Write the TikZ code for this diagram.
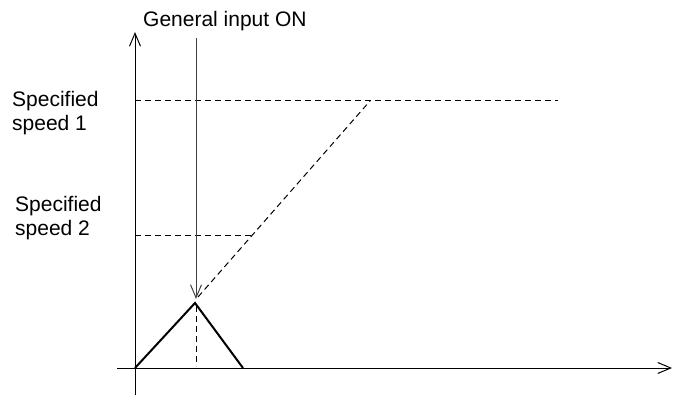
\documentclass[tikz,border=0pt]{standalone}
\usepackage{fontspec}
\setmainfont{Liberation Sans}
\usetikzlibrary{arrows.meta}
\begin{document}
\begin{tikzpicture}[x=1pt,y=-1pt,
  lbl/.style={font=\fontsize{21}{24}\selectfont, inner sep=0pt, align=left},
  axis/.style={line width=1pt, -{Straight Barb[length=13pt,width=11pt,line width=1pt]}},
  guide/.style={line width=1pt, dash pattern=on 6pt off 4pt},
  curve/.style={line width=2pt, line join=miter},
  marker/.style={line width=1pt, draw=black!75, -{Straight Barb[length=13pt,width=11pt,line width=1pt]}}]
\useasboundingbox (0,0) rectangle (673,396);
% coordinates
\coordinate (yb) at (135,395);
\coordinate (yt) at (135,32);
\coordinate (xl) at (117,368);
\coordinate (xr) at (672,368);
\coordinate (o) at (135,368);
\coordinate (pk) at (195,303);
\coordinate (re) at (243,368);
\coordinate (s1a) at (135,101);
\coordinate (s1b) at (558,101);
\coordinate (s2a) at (135,235);
\coordinate (s2b) at (252,235);
\coordinate (da) at (198,297);
\coordinate (db) at (370,101);
\coordinate (va) at (196,306);
\coordinate (vb) at (196,366);
\coordinate (ma) at (196,38);
\coordinate (mb) at (196,299);
% labels
\node[lbl, anchor=base west] (gi) at (143,27) {General input ON};
\node[lbl, anchor=north west] (sp1) at (12,91.5) {Specified\\speed 1};
\node[lbl, anchor=north west] (sp2) at (15,196.5) {Specified\\speed 2};
% axes
\draw[axis] (yb) -- (yt);
\draw[axis] (xl) -- (xr);
% guides
\draw[guide] (s1a) -- (s1b);
\draw[guide] (s2a) -- (s2b);
\draw[guide] (da) -- (db);
\draw[guide] (va) -- (vb);
% curve
\draw[curve] (o) -- (pk) -- (re);
% marker arrow
\draw[marker] (ma) -- (mb);
\end{tikzpicture}
\end{document}
